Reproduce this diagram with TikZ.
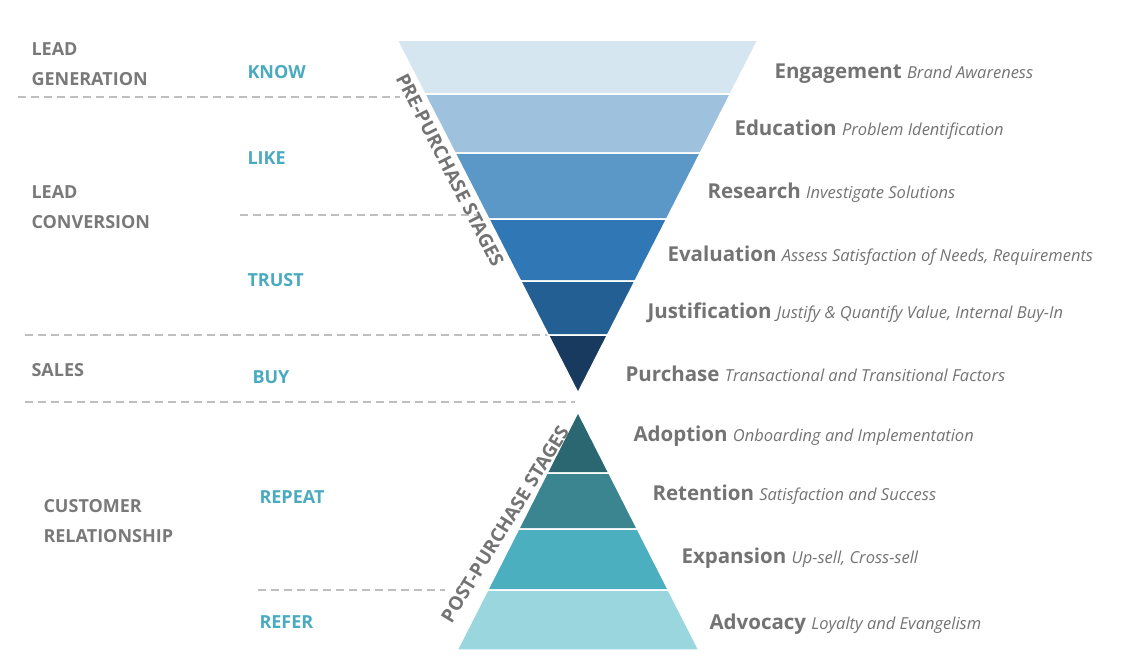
\documentclass[tikz,border=0pt]{standalone}
\usepackage{fontspec}
\setmainfont{Open Sans}
\begin{document}
\begin{tikzpicture}[x=1pt,y=-1pt,
  lab/.style={font=\fontsize{18}{30}\selectfont\bfseries, text=gray!95!black, anchor=west, align=left},
  stg/.style={font=\fontsize{18}{20}\selectfont\bfseries, text=tealc, anchor=west},
  rl/.style={anchor=west, text=gray!90!black, font=\fontsize{20.5}{22}\selectfont\bfseries},
  dl/.style={dashed, gray!50, line width=1.3pt, dash pattern=on 8pt off 5pt},
  band/.style={draw=white, line width=1.5pt}]
\useasboundingbox (0,0) rectangle (1122,672);
\definecolor{tealc}{HTML}{4AAAC0}
\definecolor{c1}{HTML}{D6E6F1}\definecolor{c2}{HTML}{9EC2DE}\definecolor{c3}{HTML}{5B97C7}
\definecolor{c4}{HTML}{2F77B5}\definecolor{c5}{HTML}{245F94}\definecolor{c6}{HTML}{173A5E}
\definecolor{d1}{HTML}{2A6770}\definecolor{d2}{HTML}{3A8590}\definecolor{d3}{HTML}{4BAFBF}\definecolor{d4}{HTML}{9AD6DE}
\def\tl#1{(397+0.5127*(#1-40))}\def\tr#1{(758-0.51*(#1-40))}
\def\bl#1{(578-0.508*(#1-412))}\def\br#1{(578+0.508*(#1-412))}
\newcommand\tband[3]{\fill[band,fill=#3] ({\tl{#1}},#1) -- ({\tr{#1}},#1) -- ({\tr{#2}},#2) -- ({\tl{#2}},#2) -- cycle;}
\newcommand\bband[3]{\fill[band,fill=#3] ({\bl{#1}},#1) -- ({\br{#1}},#1) -- ({\br{#2}},#2) -- ({\bl{#2}},#2) -- cycle;}
% dashed lines
\draw[dl] (18,97) -- (400,97);
\draw[dl] (240,215) -- (480,215);
\draw[dl] (25,335) -- (550,335);
\draw[dl] (25,402) -- (575,402);
\draw[dl] (258,590) -- (445,590);
\tband{40}{94}{c1}\tband{94}{153}{c2}\tband{153}{219}{c3}\tband{219}{281}{c4}\tband{281}{335}{c5}\tband{335}{394}{c6}
\bband{412}{473}{d1}\bband{473}{529}{d2}\bband{529}{590}{d3}\bband{590}{650}{d4}
% left labels
\node[lab] (lg) at (28,64) {LEAD\\GENERATION};
\node[lab] (lc) at (28,207) {LEAD\\CONVERSION};
\node[lab] (sa) at (28,370) {SALES};
\node[lab] (cr) at (40,521) {CUSTOMER\\RELATIONSHIP};
\node[stg] (kn) at (244,72) {KNOW};
\node[stg] (li) at (244,158) {LIKE};
\node[stg] (tr) at (244,280) {TRUST};
\node[stg] (bu) at (249,377) {BUY};
\node[stg] (re) at (256,497) {REPEAT};
\node[stg] (rf) at (256,622) {REFER};
% rotated
\node[font=\fontsize{19}{20}\selectfont\bfseries, text=gray!90!black, rotate=-62.9, inner sep=0pt] (pre) at (450,170) {PRE-PURCHASE STAGES};
\node[font=\fontsize{19}{20}\selectfont\bfseries, text=gray!90!black, rotate=58.5, inner sep=0pt] (post) at (505,524) {POST-PURCHASE STAGES};
% right labels
\newcommand\rlab[5]{\node[rl] (#1) at (#2,#3) {#4 {\mdseries\itshape\fontsize{16.5}{18}\selectfont #5}};}
\rlab{e1}{771}{74}{Engagement}{Brand Awareness}
\rlab{e2}{731}{130}{Education}{Problem Identification}
\rlab{e3}{704}{193}{Research}{Investigate Solutions}
\rlab{e4}{664}{256}{Evaluation}{Assess Satisfaction of Needs, Requirements}
\rlab{e5}{644}{313}{Justification}{Justify \& Quantify Value, Internal Buy-In}
\rlab{e6}{622}{374}{Purchase}{Transactional and Transitional Factors}
\rlab{e7}{630}{436}{Adoption}{Onboarding and Implementation}
\rlab{e8}{649}{495}{Retention}{Satisfaction and Success}
\rlab{e9}{678}{558}{Expansion}{Up-sell, Cross-sell}
\rlab{e10}{706}{624}{Advocacy}{Loyalty and Evangelism}
\end{tikzpicture}
\end{document}
